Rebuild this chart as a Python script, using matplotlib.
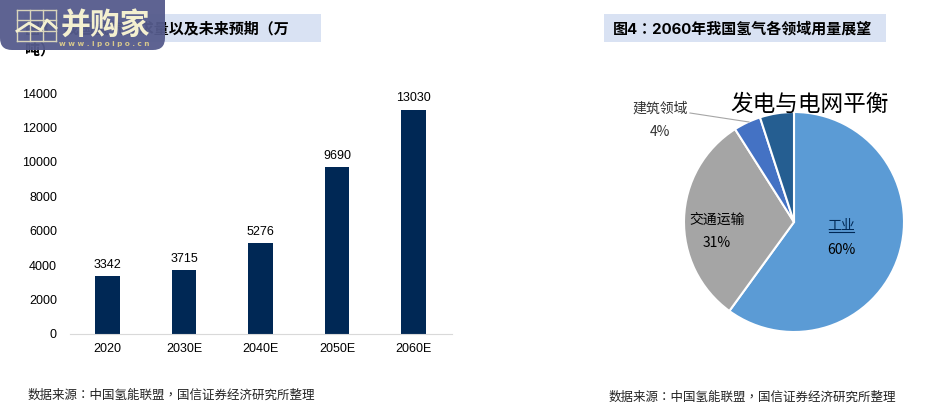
import matplotlib
matplotlib.use('Agg')
import matplotlib.pyplot as plt
from matplotlib.patches import Rectangle, FancyBboxPatch

plt.rcParams['font.family'] = ['Noto Sans CJK SC', 'DejaVu Sans']
title_font = ['Inter', 'Noto Sans CJK TC', 'DejaVu Sans']
note_font = ['Noto Sans CJK TC', 'DejaVu Sans']

years = ['2020', '2030E', '2040E', '2050E', '2060E']
output = [3342, 3715, 5276, 9690, 13030]
yticks = [0, 2000, 4000, 6000, 8000, 10000, 12000, 14000]

sectors = ['工业', '交通运输', '建筑领域', '发电与电网平衡']
shares = [60, 31, 4, 5]
pie_colors = ['#5b9bd5', '#a5a5a5', '#4472c4', '#255e91']

source = '数据来源：中国氢能联盟，国信证券经济研究所整理'
W, H = 944, 417

fig = plt.figure(figsize=(W / 100, H / 100), dpi=100)

# overlay in pixel coords for the title bands, notes and logo
bg = fig.add_axes([0, 0, 1, 1])
bg.set_xlim(0, W)
bg.set_ylim(H, 0)
bg.axis('off')

bg.add_patch(Rectangle((24, 14), 297, 28, color='#d9e2f3', lw=0))
bg.add_patch(Rectangle((604, 14), 282, 28, color='#d9e2f3', lw=0))
bg.text(25, 29, '图3：我国氢气需求量以及未来预期（万', fontsize=10.8, fontweight='bold',
        va='center', family=title_font)
bg.text(25, 50, '吨）', fontsize=10.8, fontweight='bold', va='center', family=title_font)
bg.text(613, 29, '图4：2060年我国氢气各领域用量展望', fontsize=10.8, fontweight='bold',
        va='center', family=title_font)
bg.text(28, 395, source, fontsize=9, color='#222222', va='center', family=note_font)
bg.text(609, 397, source, fontsize=9, color='#222222', va='center', family=note_font)

# bars
ax = fig.add_axes([69.5 / W, 1 - 334 / H, 382 / W, 241 / H])
bars = ax.bar(years, output, width=0.32, color='#002855')
ax.set_xlim(-0.5, 4.5)
ax.set_ylim(0, 14000)
ax.set_yticks(yticks)
for s in ['top', 'right', 'left']:
    ax.spines[s].set_visible(False)
ax.spines['bottom'].set_color('#d9d9d9')
ax.tick_params(length=0, labelsize=9, labelfontfamily='Liberation Sans')
ax.tick_params(axis='x', pad=6.5)
ax.tick_params(axis='y', pad=9)
ax.patch.set_alpha(0)
for x, v in enumerate(output):
    ax.annotate(str(v), (x, v), xytext=(0, 6), textcoords='offset points', ha='center',
                fontsize=9, family='Liberation Sans')

# pie
pie_ax = fig.add_axes([684 / W, 1 - 332 / H, 220 / W, 220 / H])
pie_ax.pie(shares, colors=pie_colors, startangle=90, counterclock=False, radius=1,
           wedgeprops={'edgecolor': 'white', 'linewidth': 1.5})
pie_ax.set_xlim(-1, 1)
pie_ax.set_ylim(-1, 1)

# pie labels
top = fig.add_axes([0, 0, 1, 1])
top.set_xlim(0, W)
top.set_ylim(H, 0)
top.axis('off')
top.text(841, 226, sectors[0], fontsize=10, ha='center', va='center', color='#002855')
top.plot([829, 854], [232, 232], color='#002855', lw=0.8)
top.text(841, 250, '60%', fontsize=10, ha='center', va='center')
top.text(717, 220, sectors[1], fontsize=10, ha='center', va='center')
top.text(717, 243, '31%', fontsize=10, ha='center', va='center')
top.text(660, 109, sectors[2], fontsize=10, ha='center', va='center', color='#333333')
top.text(660, 132, '4%', fontsize=10, ha='center', va='center', color='#333333')
top.plot([690, 749], [113, 122], color='#a6a6a6', lw=0.8)
top.text(809.5, 104, sectors[3], fontsize=16.3, ha='center', va='center')

# logo, lets a little of the title show through
top.add_patch(FancyBboxPatch((0, -20), 165, 70, boxstyle='round,pad=0,rounding_size=12',
                             facecolor='#555b8c', edgecolor='none', alpha=0.95))
for gx in [17, 30, 43, 56]:
    top.plot([gx, gx], [10, 41], color='#d9d5bb', lw=1)
for gy in [10, 20, 31, 41]:
    top.plot([17, 56], [gy, gy], color='#d9d5bb', lw=1)
top.plot([17, 29, 41, 47, 56], [31, 23, 30, 20, 28], color='#f4f0d0', lw=2)
top.text(105, 25, '并购家', fontsize=21.5, fontweight='bold', color='#f4f0d0', ha='center', va='center')
top.text(104, 44, 'w w w . i p o i p o . c n', fontsize=5.2, fontweight='bold', color='#d8c98c',
         ha='center', va='center', family='DejaVu Sans')

fig.savefig('out.png', dpi=100)
